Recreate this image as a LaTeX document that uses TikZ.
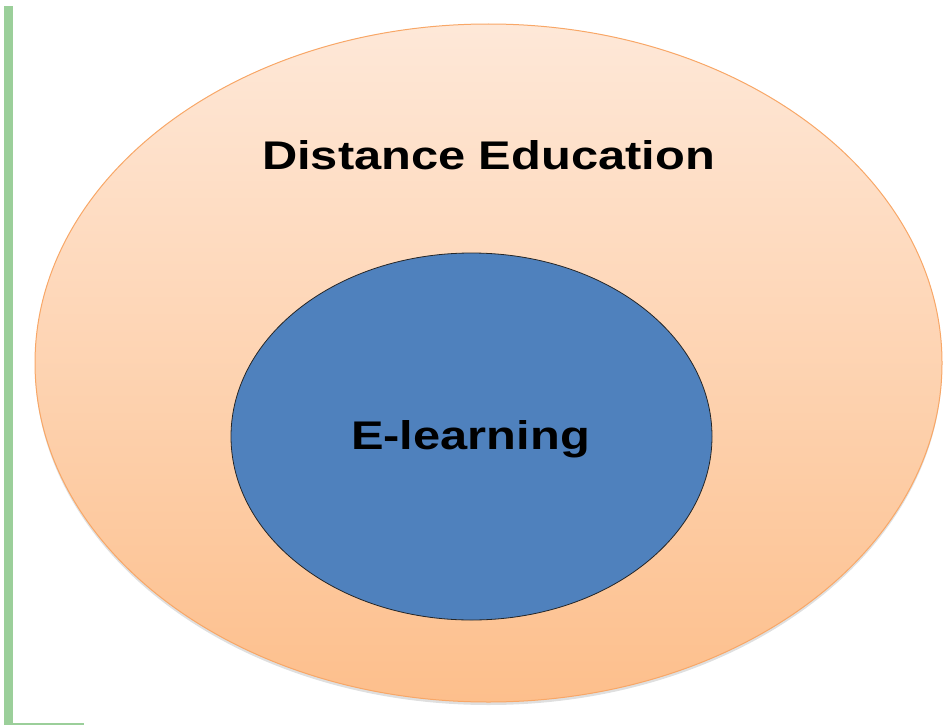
\documentclass[tikz,border=0pt]{standalone}
\usepackage{fontspec}
\setmainfont{Liberation Sans}
\usetikzlibrary{shapes.geometric, shadows}
\definecolor{peachtop}{HTML}{FEE8D8}
\definecolor{peachbot}{HTML}{FDBF8C}
\definecolor{peachline}{HTML}{F8A767}
\definecolor{blueset}{HTML}{4F81BD}
\definecolor{greenbar}{HTML}{9BCF9A}
\tikzset{
  setbox/.style={ellipse, inner sep=0pt},
  setlabel/.style={font=\fontsize{40}{48}\selectfont\bfseries, inner sep=0pt}
}
\begin{document}
\begin{tikzpicture}[x=1pt, y=-1pt]
  \useasboundingbox (0,0) rectangle (944,725);
  \fill[greenbar] (4,6) rectangle (12.5,725);
  \draw[greenbar, line width=1.2pt] (12,724) -- (84,724);

  \node[setbox, draw=peachline, line width=1pt, top color=peachtop, bottom color=peachbot,
        drop shadow={shadow xshift=0pt, shadow yshift=-3pt, opacity=0.25},
        minimum width=907pt, minimum height=678pt] (de) at (488.5,363) {};
  \node[setbox, draw=black!85, line width=0.8pt, fill=blueset,
        minimum width=481pt, minimum height=367pt] (el) at (471.5,436.5) {};

  \node[setlabel] (detext) at (488.5,155) {\scalebox{1.22}[1]{Distance Education}};
  \node[setlabel] (eltext) at (470.5,439) {\scalebox{1.22}[1]{E-learning}};
\end{tikzpicture}
\end{document}
